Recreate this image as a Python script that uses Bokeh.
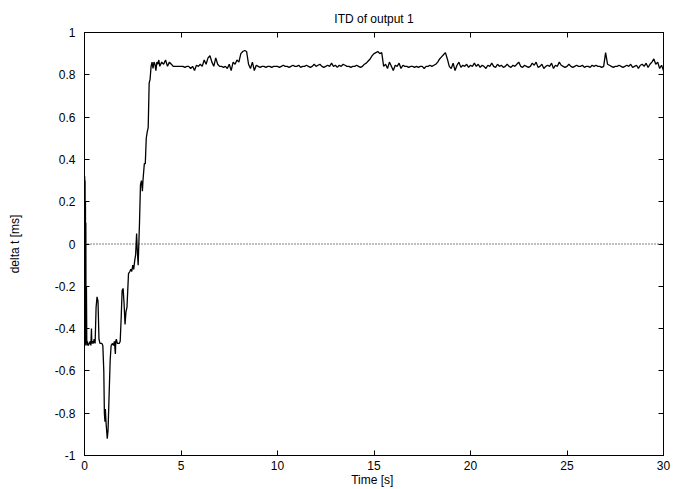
import numpy as np
from bokeh.plotting import figure
from bokeh.models import Range1d, FixedTicker, LinearAxis, Span, PrintfTickFormatter
from bokeh.embed import file_html
from bokeh.resources import INLINE

# ---- data ----
title_text = "ITD of output 1"
x_label = "Time  [s]"
y_label = "delta t [ms]"
x_ticks = [0, 5, 10, 15, 20, 25, 30]
y_ticks = [-1, -0.8, -0.6, -0.4, -0.2, 0, 0.2, 0.4, 0.6, 0.8, 1]

# start-up transient (irregular samples), seconds / ms
t_start = [0.00, 0.01, 0.02, 0.03, 0.04, 0.05, 0.06, 0.07, 0.08, 0.10, 0.12, 0.15,
           0.20, 0.25, 0.30, 0.33, 0.36, 0.38, 0.42, 0.46, 0.50, 0.55, 0.60, 0.65,
           0.70, 0.75, 0.80, 0.85, 0.90, 0.95, 1.00, 1.03, 1.06, 1.08, 1.12, 1.18,
           1.22, 1.28, 1.33, 1.38, 1.45, 1.50, 1.55, 1.60, 1.62, 1.65, 1.70, 1.75,
           1.80, 1.85, 1.90, 1.95, 2.00, 2.05, 2.10, 2.15, 2.20, 2.28, 2.35, 2.40,
           2.45, 2.50, 2.55, 2.60, 2.65, 2.70, 2.73, 2.78, 2.85, 2.90, 2.95, 3.00,
           3.03, 3.10, 3.15, 3.20, 3.25, 3.30, 3.35, 3.40, 3.45, 3.50, 3.55, 3.60,
           3.65, 3.70, 3.75, 3.80, 3.85, 3.90]
d_start = [-0.47, 0.32, -0.30, 0.30, -0.48, 0.20, -0.45, 0.10, -0.47, -0.20, -0.48, -0.46,
           -0.48, -0.47, -0.46, -0.48, -0.40, -0.47, -0.46, -0.47, -0.45, -0.47, -0.30, -0.25,
           -0.27, -0.45, -0.47, -0.47, -0.47, -0.48, -0.60, -0.80, -0.84, -0.78, -0.85, -0.92,
           -0.88, -0.70, -0.55, -0.48, -0.47, -0.48, -0.46, -0.52, -0.46, -0.45, -0.47, -0.47,
           -0.47, -0.46, -0.35, -0.22, -0.21, -0.28, -0.38, -0.32, -0.30, -0.14, -0.13, -0.12,
           -0.13, -0.10, -0.12, -0.08, -0.05, 0.05, -0.02, -0.10, 0.10, 0.28, 0.30, 0.25,
           0.30, 0.38, 0.38, 0.50, 0.53, 0.55, 0.76, 0.78, 0.84, 0.86, 0.83, 0.86,
           0.85, 0.82, 0.86, 0.85, 0.87, 0.84]

# steady state, one sample every 0.1 s from 4.0 s to 30.0 s
t_steady_first = 4.0
t_steady_step = 0.1
d_steady = [
    0.86, 0.85, 0.87, 0.84, 0.86, 0.85, 0.84, 0.84, 0.84, 0.84,      # 4
    0.84, 0.84, 0.835, 0.84, 0.84, 0.83, 0.84, 0.82, 0.845, 0.84,    # 5
    0.85, 0.84, 0.87, 0.85, 0.88, 0.89, 0.86, 0.84, 0.88, 0.85,      # 6
    0.84, 0.84, 0.835, 0.84, 0.83, 0.85, 0.82, 0.86, 0.85, 0.87,     # 7
    0.86, 0.90, 0.91, 0.915, 0.91, 0.85, 0.83, 0.86, 0.82, 0.845,    # 8
    0.84, 0.835, 0.84, 0.84, 0.835, 0.84, 0.84, 0.835, 0.84, 0.84,  # 9
    0.84, 0.835, 0.84, 0.845, 0.84, 0.84, 0.835, 0.84, 0.845, 0.84,  # 10
    0.84, 0.845, 0.835, 0.84, 0.84, 0.845, 0.84, 0.835, 0.84, 0.85,  # 11
    0.84, 0.845, 0.85, 0.84, 0.835, 0.84, 0.845, 0.84, 0.855, 0.84,  # 12
    0.845, 0.835, 0.845, 0.84, 0.85, 0.845, 0.84, 0.84, 0.835, 0.84, # 13
    0.84, 0.845, 0.84, 0.835, 0.84, 0.85, 0.855, 0.865, 0.875, 0.89, # 14
    0.90, 0.905, 0.91, 0.90, 0.905, 0.84, 0.85, 0.83, 0.86, 0.84,    # 15
    0.82, 0.845, 0.84, 0.855, 0.83, 0.845, 0.84, 0.84, 0.835, 0.84,  # 16
    0.84, 0.835, 0.84, 0.835, 0.84, 0.84, 0.83, 0.84, 0.84, 0.845,   # 17
    0.84, 0.845, 0.85, 0.86, 0.875, 0.885, 0.895, 0.905, 0.875, 0.84,# 18
    0.83, 0.855, 0.82, 0.845, 0.86, 0.835, 0.845, 0.84, 0.85, 0.835, # 19
    0.845, 0.84, 0.855, 0.84, 0.85, 0.835, 0.845, 0.84, 0.83, 0.845, # 20
    0.84, 0.855, 0.84, 0.835, 0.85, 0.84, 0.845, 0.835, 0.84, 0.85,  # 21
    0.84, 0.835, 0.845, 0.84, 0.85, 0.86, 0.84, 0.835, 0.845, 0.84,  # 22
    0.835, 0.84, 0.855, 0.845, 0.86, 0.835, 0.84, 0.85, 0.83, 0.84,  # 23
    0.845, 0.84, 0.855, 0.83, 0.845, 0.84, 0.86, 0.845, 0.84, 0.835, # 24
    0.84, 0.85, 0.84, 0.835, 0.84, 0.845, 0.84, 0.84, 0.845, 0.835,  # 25
    0.84, 0.84, 0.835, 0.845, 0.84, 0.845, 0.84, 0.84, 0.835, 0.84,  # 26
    0.905, 0.85, 0.845, 0.84, 0.835, 0.84, 0.84, 0.845, 0.84, 0.835, # 27
    0.84, 0.845, 0.84, 0.85, 0.835, 0.84, 0.845, 0.83, 0.845, 0.85,  # 28
    0.84, 0.855, 0.835, 0.85, 0.86, 0.875, 0.85, 0.86, 0.83, 0.845,  # 29
    0.82,                                                            # 30
]

t_steady = [round(t_steady_first + i * t_steady_step, 2) for i in range(len(d_steady))]
t_all = list(t_start) + t_steady
d_all = list(d_start) + list(d_steady)

# ---- figure ----
FONT = "Liberation Sans"
FS = "12px"

p = figure(width=686, height=489,
           x_range=Range1d(0, 30), y_range=Range1d(-1, 1),
           output_backend="svg", toolbar_location=None,
           title=title_text,
           min_border_left=84, min_border_right=23,
           min_border_top=32, min_border_bottom=33)

p.background_fill_color = "white"
p.border_fill_color = "white"
p.outline_line_color = "black"
p.outline_line_width = 1
p.xgrid.visible = False
p.ygrid.visible = False

p.title.align = "center"
p.title.text_font = FONT
p.title.text_font_size = FS
p.title.text_font_style = "normal"
p.title.text_color = "black"
p.title.standoff = 14

bottom_axis = p.below[0]
left_axis = p.left[0]

bottom_axis.ticker = FixedTicker(ticks=x_ticks)
left_axis.ticker = FixedTicker(ticks=y_ticks)
bottom_axis.formatter = PrintfTickFormatter(format="%g")
left_axis.formatter = PrintfTickFormatter(format="%g")
bottom_axis.axis_label = x_label
left_axis.axis_label = y_label

# mirror tick marks (no labels) on the right and top, drawn as minor ticks
right_axis = LinearAxis(ticker=FixedTicker(ticks=[], minor_ticks=y_ticks))
top_axis = LinearAxis(ticker=FixedTicker(ticks=[], minor_ticks=x_ticks))
p.add_layout(right_axis, "right")
p.add_layout(top_axis, "above")

for ax in [bottom_axis, left_axis]:
    ax.axis_line_color = "black"
    ax.major_tick_line_color = "black"
    ax.major_tick_in = 5
    ax.major_tick_out = 0
    ax.minor_tick_line_color = None
    ax.major_label_text_font = FONT
    ax.major_label_text_font_size = FS
    ax.major_label_text_color = "black"
    ax.axis_label_text_font = FONT
    ax.axis_label_text_font_size = FS
    ax.axis_label_text_font_style = "normal"
    ax.axis_label_text_color = "black"

for ax in [right_axis, top_axis]:
    ax.axis_line_color = "black"
    ax.major_tick_line_color = None
    ax.minor_tick_line_color = "black"
    ax.minor_tick_in = 5
    ax.minor_tick_out = 0
    ax.major_label_standoff = 0

bottom_axis.major_label_standoff = 5
bottom_axis.axis_label_standoff = 0
left_axis.major_label_standoff = 9
left_axis.axis_label_standoff = 30

p.add_layout(Span(location=0, dimension="width", line_color="black",
                  line_width=1, line_dash="1 2"))

p.line(t_all, d_all, line_color="black", line_width=1.3)

open("out.html", "w").write(file_html(p, INLINE))
